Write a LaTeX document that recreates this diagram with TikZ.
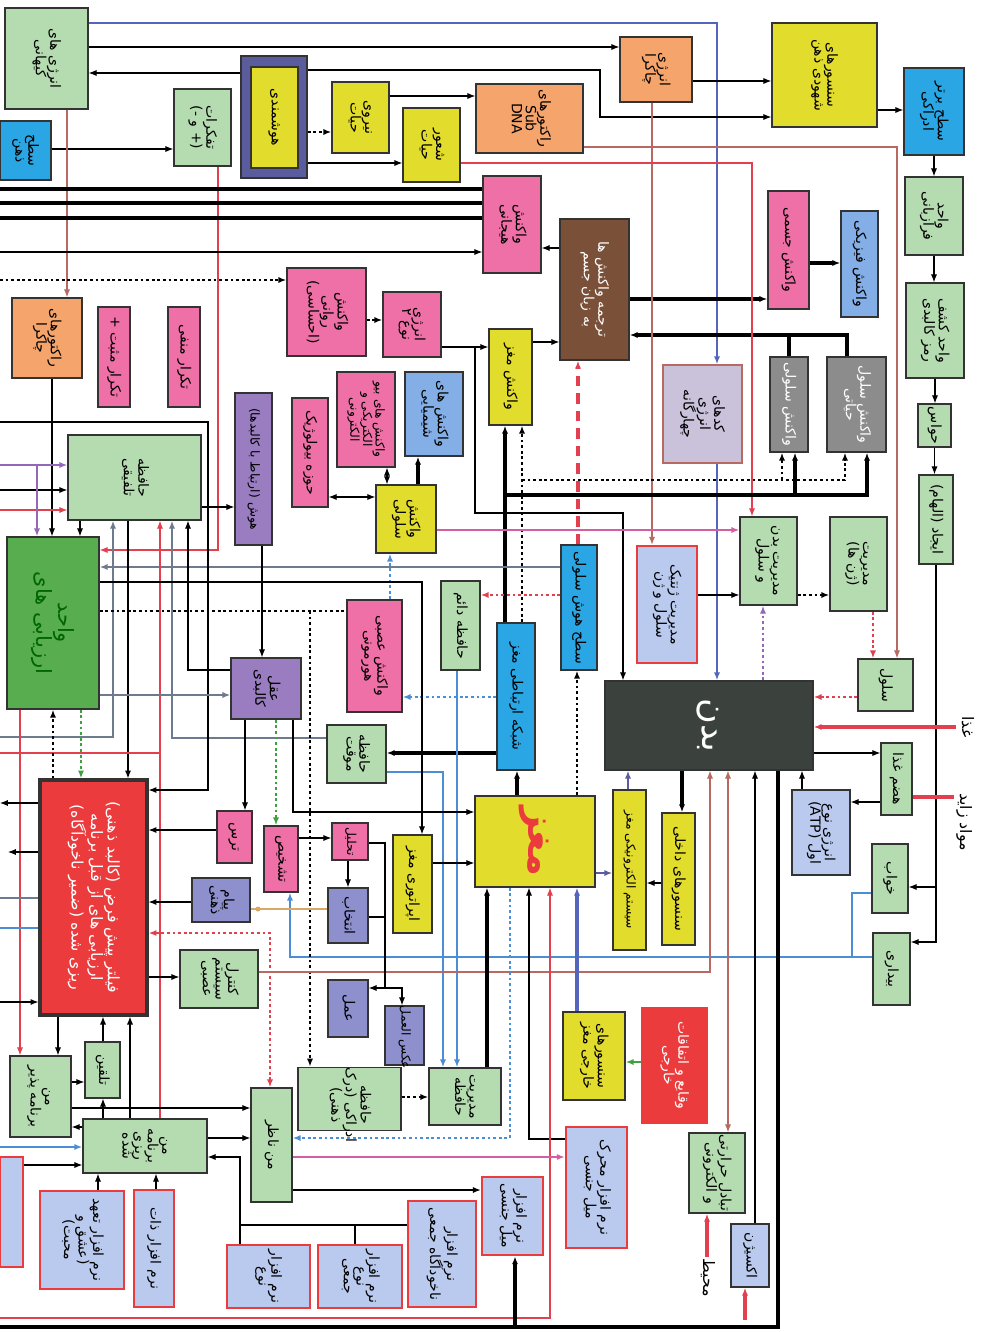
\documentclass[tikz,border=0pt]{standalone}
\usepackage{fontspec}
\usepackage{graphicx}
\usetikzlibrary{arrows.meta,fit}
\newfontfamily\fafont[Script=Arabic]{DejaVu Sans}
\TeXXeTstate=1
\newcommand{\fl}[1]{\beginR#1\endR}
\newcommand{\vt}[1]{\rotatebox{-90}{\begin{tabular}{@{}c@{}}#1\end{tabular}}}
\renewcommand{\arraystretch}{0.8}

\definecolor{cgreen}{HTML}{B5DBB0}
\definecolor{cdgreen}{HTML}{58AE4E}
\definecolor{cyellow}{HTML}{E2DC2C}
\definecolor{corange}{HTML}{F5A56C}
\definecolor{cpink}{HTML}{EE70A6}
\definecolor{ccyan}{HTML}{2AA6E4}
\definecolor{clblue}{HTML}{84AEE6}
\definecolor{cbrown}{HTML}{7A5038}
\definecolor{cpurple}{HTML}{9A7DC0}
\definecolor{cslate}{HTML}{8E90CE}
\definecolor{cgray}{HTML}{8C8C8C}
\definecolor{clav}{HTML}{CAC2DB}
\definecolor{cbody}{HTML}{3B413C}
\definecolor{cred}{HTML}{EC3B3D}
\definecolor{csoft}{HTML}{BACAEE}
\definecolor{cframe}{HTML}{5A5C9E}
\definecolor{lblue}{HTML}{5466BC}
\definecolor{lbrown}{HTML}{B86A62}
\definecolor{lred}{HTML}{E2404E}
\definecolor{lpink}{HTML}{D55EA0}
\definecolor{lpurple}{HTML}{9467B8}
\definecolor{lgreen}{HTML}{3DA23D}
\definecolor{lsky}{HTML}{4C8ED6}
\definecolor{ltan}{HTML}{D9A864}
\definecolor{lgray}{HTML}{6E7A8E}

\begin{document}
\begin{tikzpicture}[
  x=0.02cm, y=-0.02cm, line width=0.6pt,
  >={Latex[length=4.5pt,width=3.5pt]},
  every node/.style={font=\fafont\fontsize{8}{9}\selectfont},
  bx/.style={draw=black!80, line width=0.8pt, inner sep=0pt},
  small/.style={font=\fafont\fontsize{7}{8}\selectfont},
  gbox/.style={bx, fill=cgreen},
  dgbox/.style={bx, fill=cdgreen, text=black!60!green,
              font=\fafont\fontsize{12}{14}\selectfont},
  ybox/.style={bx, fill=cyellow},
  obox/.style={bx, fill=corange},
  pbox/.style={bx, fill=cpink},
  cbox/.style={bx, fill=ccyan},
  lbbox/.style={bx, fill=clblue},
  ubox/.style={bx, fill=cpurple},
  sltbox/.style={bx, fill=cslate},
  grbox/.style={bx, fill=cgray, text=white},
  lavbox/.style={bx, fill=clav, draw=lbrown},
  brbox/.style={bx, fill=cbrown, text=white},
  swbox/.style={bx, fill=csoft, draw=cred, line width=1.5pt},
  atpbox/.style={bx, fill=csoft},
  bodybox/.style={bx, fill=cbody, text=white,
              font=\fafont\fontsize{20}{22}\selectfont},
  brainbox/.style={bx, fill=cyellow, text=cred,
              font=\fafont\bfseries\fontsize{22}{24}\selectfont},
  filterbox/.style={bx, fill=cred, line width=1.8pt, text=white,
              font=\fafont\fontsize{9}{11}\selectfont},
  eventbox/.style={bx, fill=cred, draw=cred, text=white},
  lbl/.style={inner sep=1pt, font=\fafont\fontsize{9}{10}\selectfont},
  thk/.style={line width=1.8pt},
  dotl/.style={line width=1.6pt, dash pattern=on 1.6pt off 1.6pt},
  bluel/.style={draw=lblue, line width=1.4pt},
  brownl/.style={draw=lbrown},
  redl/.style={draw=lred},
  pinkl/.style={draw=lpink, line width=0.8pt},
  purl/.style={draw=lpurple, line width=0.8pt},
  grayl/.style={draw=lgray, line width=0.8pt},
  skyl/.style={draw=lsky, line width=0.9pt},
  tanl/.style={draw=ltan, line width=0.8pt},
  redthk/.style={draw=lred, line width=2pt},
  reddot/.style={dotl, draw=lred},
  purdot/.style={dotl, draw=lpurple},
  greendot/.style={dotl, draw=lgreen},
  bluedot/.style={dotl, draw=lsky},
  reddash/.style={draw=lred, line width=2pt, dash pattern=on 6pt off 4pt},
  navyl/.style={draw=cframe, line width=1.2pt},
  bluethk/.style={draw=lblue, line width=2pt},
  greenthk/.style={draw=lgreen, line width=1.2pt},
]
\path[fill=white, use as bounding box] (0,0) rectangle (982,1332);

% top row
\node[gbox, fit={(5,8) (88,109)}] (cosmic) {\vt{\fl{انرژی های}\\\fl{کیهانی}}};
\node[cbox, fit={(0,121) (51,180)}] (shid) {\vt{\fl{سطح}\\\fl{ذهن}}};
\node[gbox, fit={(174,89) (231,166)}] (fikr) {\vt{\fl{تفکرات}\\\fl{(+ و -)}}};
\node[bx, fill=cframe, fit={(241,56) (307,178)}] (hooshf) {};
\node[ybox, fit={(251,67) (298,168)}] (hoosh) {\vt{\fl{هوشمندی}}};
\node[ybox, fit={(332,82) (389,153)}] (niroo) {\vt{\fl{نیروی}\\\fl{حیات}}};
\node[ybox, fit={(403,108) (460,182)}] (shoor) {\vt{\fl{شعور}\\\fl{حیات}}};
\node[obox, fit={(476,84) (583,153)}] (reactor) {\vt{\fl{راکتورهای}\\Sub\\DNA}};
\node[obox, fit={(620,37) (692,102)}] (chakra) {\vt{\fl{انرژی}\\\fl{چاکرا}}};
\node[ybox, fit={(772,23) (877,127)}] (sensor) {\vt{\fl{سنسورهای}\\\fl{شهودی ذهن}}};
\node[cbox, fit={(904,68) (964,155)}] (sathe) {\vt{\fl{سطح برتر}\\\fl{ادراکی}}};
\node[gbox, fit={(905,177) (963,255)}] (faraz) {\vt{\fl{واحد}\\\fl{فرازبانی}}};
\node[gbox, fit={(906,283) (964,378)}] (ramz) {\vt{\fl{واحد کشف}\\\fl{رمز کالبدی}}};
\node[gbox, fit={(918,404) (951,447)}] (havas) {\vt{\fl{حواس}}};
\node[gbox, fit={(919,475) (953,564)}] (elham) {\vt{\fl{ایجاد (الهام)}}};

% reactions
\node[pbox, fit={(483,176) (541,273)}] (hayajan) {\vt{\fl{واکنش}\\\fl{هیجانی}}};
\node[brbox, fit={(560,219) (629,360)}] (tarjome) {\vt{\fl{ترجمه واکنش ها}\\\fl{به زبان جسم}}};
\node[pbox, fit={(768,191) (809,309)}] (jesmi) {\vt{\fl{واکنش جسمی}}};
\node[lbbox, fit={(841,211) (878,317)}] (fiziki) {\vt{\fl{واکنش فیزیکی}}};
\node[pbox, fit={(287,268) (366,356)}] (ravani) {\vt{\fl{واکنش}\\\fl{روانی}\\\fl{(احساسی)}}};
\node[pbox, fit={(383,292) (441,357)}] (energy2) {\vt{\fl{انرژی}\\\fl{نوع ۲}}};
\node[ybox, fit={(489,329) (532,425)}] (vakmaghz) {\vt{\fl{واکنش مغز}}};
\node[obox, fit={(12,298) (82,378)}] (rchakra) {\vt{\fl{راکتورهای}\\\fl{چاکرا}}};
\node[pbox, fit={(98,307) (130,407)}] (tkmosbat) {\vt{\fl{تکرار مثبت +}}};
\node[pbox, fit={(168,307) (200,407)}] (tkmanfi) {\vt{\fl{تکرار منفی}}};
\node[ubox, small, fit={(235,393) (272,545)}] (hoosh2) {\vt{\fl{هوش (ارتباط با کالبدها)}}};
\node[pbox, fit={(292,398) (328,507)}] (hoze) {\vt{\fl{حوزه بیولوژیک}}};
\node[pbox, small, fit={(337,372) (395,467)}] (bioel) {\vt{\fl{واکنش های بیو}\\\fl{الکتریکی و}\\\fl{الکترونی}}};
\node[lbbox, fit={(405,372) (463,456)}] (shimi) {\vt{\fl{واکنش های}\\\fl{شیمیایی}}};
\node[ybox, fit={(376,485) (436,553)}] (selvak) {\vt{\fl{واکنش}\\\fl{سلولی}}};
\node[lavbox, fit={(663,365) (742,463)}] (neshane) {\vt{\fl{کدهای}\\\fl{انرژی}\\\fl{چهارگانه}}};
\node[grbox, fit={(770,357) (808,452)}] (gray1) {\vt{\fl{واکنش سلولی}}};
\node[grbox, fit={(827,357) (886,452)}] (gray2) {\vt{\fl{واکنش سلول}\\\fl{حیاتی}}};

% middle
\node[gbox, fit={(68,435) (201,520)}] (hafez) {\vt{\fl{حافظه}\\\fl{تلفیقی}}};
\node[dgbox, fit={(7,537) (99,709)}] (arzyab) {\vt{\fl{واحد}\\\fl{ارزیابی های}}};
\node[gbox, fit={(740,517) (797,605)}] (modbadan) {\vt{\fl{مدیریت بدن}\\\fl{و سلول}}};
\node[gbox, fit={(830,517) (887,611)}] (modzhen) {\vt{\fl{مدیریت}\\\fl{(ژن ها)}}};
\node[swbox, fit={(637,546) (697,663)}] (genetik) {\vt{\fl{مدیریت ژنتیک}\\\fl{سلول و ژن}}};
\node[cbox, fit={(561,545) (597,670)}] (hooshsel) {\vt{\fl{سطح هوش سلولی}}};
\node[gbox, fit={(441,581) (480,670)}] (daem) {\vt{\fl{حافظه دائم}}};
\node[pbox, fit={(347,600) (402,712)}] (asabi) {\vt{\fl{واکنش عصبی}\\\fl{هورمونی}}};
\node[cbox, fit={(497,623) (535,770)}] (shabake) {\vt{\fl{شبکه ارتباطی مغز}}};
\node[ubox, fit={(231,658) (301,719)}] (aghl) {\vt{\fl{عقل}\\\fl{کالبدی}}};
\node[bodybox, fit={(605,681) (813,770)}] (body) {\vt{\fl{بدن}}};
\node[gbox, fit={(858,659) (913,711)}] (cell) {\vt{\fl{سلول}}};
\node[gbox, fit={(881,743) (912,815)}] (hazm) {\vt{\fl{هضم غذا}}};
\node[atpbox, fit={(792,790) (850,875)}] (atp) {\vt{\fl{انرژی نوع}\\\fl{اول \beginL(ATP)\endL}}};
\node[gbox, fit={(327,725) (386,783)}] (movaghat) {\vt{\fl{حافظه}\\\fl{موقت}}};
\node[lbl] (food) at (966,727) {\vt{\fl{غذا}}};
\node[lbl] (waste) at (964,822) {\vt{\fl{مواد زاید}}};

% lower part
\node[filterbox, fit={(40,780) (147,1015)}] (filter) {\vt{\fl{فیلتر پیش فرض (کالبد ذهنی)}\\\fl{ارزیابی های از قبل برنامه}\\\fl{ریزی شده (ضمیر ناخودآگاه)}}};
\node[brainbox, fit={(475,796) (595,887)}] (brain) {\vt{\fl{مغز}}};
\node[ybox, small, fit={(613,790) (646,950)}] (system) {\vt{\fl{سیستم الکترونیکی مغز}}};
\node[ybox, fit={(662,813) (695,945)}] (sensin) {\vt{\fl{سنسورهای داخلی}}};
\node[pbox, fit={(217,811) (252,863)}] (tars) {\vt{\fl{ترس}}};
\node[pbox, fit={(264,826) (298,892)}] (tashkhis) {\vt{\fl{تشخیص}}};
\node[pbox, small, fit={(332,823) (368,860)}] (tahlil) {\vt{\fl{تحلیل}}};
\node[ybox, fit={(393,835) (432,933)}] (operator) {\vt{\fl{اپراتوری مغز}}};
\node[sltbox, fit={(192,878) (250,922)}] (payam) {\vt{\fl{پیام}\\\fl{ذهنی}}};
\node[sltbox, fit={(328,888) (368,943)}] (entekhab) {\vt{\fl{انتخاب}}};
\node[gbox, fit={(180,950) (258,1008)}] (control) {\vt{\fl{کنترل}\\\fl{سیستم}\\\fl{عصبی}}};
\node[sltbox, fit={(328,980) (368,1037)}] (amal) {\vt{\fl{عمل}}};
\node[sltbox, small, fit={(385,1008) (424,1063)}] (aksamal) {\vt{\fl{عکس العمل}}};
\node[gbox, fit={(872,844) (908,913)}] (sleep) {\vt{\fl{خواب}}};
\node[gbox, fit={(873,933) (910,1005)}] (awake) {\vt{\fl{بیداری}}};
\node[eventbox, fit={(642,1008) (707,1123)}] (events) {\vt{\fl{وقایع و اتفاقات}\\\fl{خارجی}}};
\node[ybox, fit={(563,1012) (625,1100)}] (sensout) {\vt{\fl{سنسورهای}\\\fl{خارجی مغز}}};
\node[gbox, fit={(298,1073) (401,1125)}] (hadrak) {\vt{\fl{حافظه}\\\fl{ادراکی (درک}\\\fl{ذهنی)}}};
\node[gbox, fit={(429,1068) (501,1125)}] (modhaf) {\vt{\fl{مدیریت}\\\fl{حافظه}}};
\node[gbox, fit={(251,1088) (292,1202)}] (nazer) {\vt{\fl{من ناظر}}};
\node[gbox, fit={(10,1056) (71,1137)}] (pazir) {\vt{\fl{من}\\\fl{برنامه پذیر}}};
\node[gbox, fit={(85,1042) (120,1098)}] (talghin) {\vt{\fl{تلقین}}};
\node[gbox, fit={(83,1119) (207,1173)}] (barname) {\vt{\fl{من}\\\fl{برنامه}\\\fl{ریزی}\\\fl{شده}}};
\node[swbox, fit={(0,1157) (23,1267)}] (sw1) {};
\node[swbox, fit={(40,1191) (124,1289)}] (sw2) {\vt{\fl{نرم افزار تعهد}\\\fl{(عشق و}\\\fl{محبت)}}};
\node[swbox, fit={(134,1190) (174,1307)}] (sw3) {\vt{\fl{نرم افزار ذات}}};
\node[swbox, fit={(227,1245) (310,1308)}] (sw4) {\vt{\fl{نرم افزار}\\\fl{نوع}}};
\node[swbox, fit={(318,1245) (402,1308)}] (sw5) {\vt{\fl{نرم افزار}\\\fl{نوع}\\\fl{جمعی}}};
\node[swbox, fit={(408,1201) (476,1307)}] (sw6) {\vt{\fl{نرم افزار}\\\fl{ناخودآگاه جمعی}}};
\node[swbox, fit={(482,1177) (543,1255)}] (sw7) {\vt{\fl{نرم افزار}\\\fl{میل جنسی}}};
\node[swbox, fit={(566,1127) (627,1248)}] (sw8) {\vt{\fl{نرم افزار محرک}\\\fl{میل جنسی}}};
\node[gbox, fit={(689,1133) (745,1213)}] (tabadol) {\vt{\fl{تبادل حرارتی}\\\fl{و الکترونی}}};
\node[atpbox, fit={(731,1224) (769,1287)}] (oxygen) {\vt{\fl{اکسیژن}}};
\node[lbl] (env) at (707,1278) {\vt{\fl{محیط}}};

% free ends at the page edge
\coordinate (inA) at (0,189);
\coordinate (inB) at (0,203);
\coordinate (inC) at (0,218);
\coordinate (inD) at (0,252);
\coordinate (inE) at (0,280);
\coordinate (inF) at (0,422);
\coordinate (inG) at (0,465);
\coordinate (inH) at (0,490);
\coordinate (inI) at (0,510);
\coordinate (inJ) at (0,737);
\coordinate (inK) at (0,753);
\coordinate (inL) at (0,803);
\coordinate (outM) at (8,852);
\coordinate (inN) at (0,898);
\coordinate (inO) at (0,928);
\coordinate (inP) at (0,1002);
\coordinate (inQ) at (0,1147);
\coordinate (inR) at (0,1318);
\coordinate (botL) at (0,1327);
\coordinate (oxin) at (745,1320);

% top connectors
\draw[bluel, ->] (cosmic.east |- 0,23) -| (717,0 |- neshane.north);
\draw[bluel, ->] (717,0 |- neshane.south) -- (717,0 |- body.north);
\draw[->] (cosmic.east |- 0,47) -- (chakra.west |- 0,47);
\draw[->] (hooshf.west |- 0,73) -- (cosmic.east |- 0,73);
\draw[->] (hooshf.east |- 0,70) -- (600,70) |- (sensor.west |- 0,117);
\draw[dotl, ->] (hooshf.east |- 0,132) -- (niroo.west |- 0,132);
\draw[->] (hooshf.east |- 0,163) -- (shoor.west |- 0,163);
\draw[->] (niroo.east |- 0,96) -- (reactor.west |- 0,96);
\draw[->] (chakra.east |- 0,81) -- (sensor.west |- 0,81);
\draw[->] (sensor.east |- 0,110) -- (sathe.west |- 0,110);
\draw[->] (sathe.south) -- (sathe.south |- faraz.north);
\draw[->] (faraz.south) -- (faraz.south |- ramz.north);
\draw[->] (ramz.south) -- (ramz.south |- havas.north);
\draw[->] (havas.south) -- (havas.south |- elham.north);
\draw[->] (elham.south) |- (awake.east |- 0,942);
\draw[->] (elham.south |- 0,887) -- (sleep.east |- 0,887);
\draw[->] (shid.east |- 0,149) -- (fikr.west |- 0,149);
\draw[brownl, ->] (67,0 |- cosmic.south) -- (67,0 |- rchakra.north);
\draw[->] (52,0 |- rchakra.south) -- (52,0 |- arzyab.north);
\draw[redl, ->] (218,0 |- fikr.south) |- (arzyab.east |- 0,550);
\draw[thk] (inA) -- (hayajan.west |- inA);
\draw[line width=2.4pt] (inB) -- (hayajan.west |- inB);
\draw[thk] (inC) -- (hayajan.west |- inC);
\draw[->] (inD) -- (hayajan.west |- inD);
\draw[dotl, ->] (inE) -- (ravani.west |- inE);
\draw[dotl, ->] (ravani.east |- 0,320) -- (energy2.west |- 0,320);
\draw[->] (energy2.east |- 0,347) -- (vakmaghz.west |- 0,347);
\draw[->] (vakmaghz.east |- 0,342) -- (tarjome.west |- 0,342);
\draw[->] (tarjome.west |- 0,248) -- (hayajan.east |- 0,248);
\draw[thk, ->] (tarjome.east |- 0,299) -- (jesmi.west |- 0,299);
\draw[thk, ->] (jesmi.east |- 0,263) -- (fiziki.west |- 0,263);
\draw[thk, ->] (gray1.north) |- (tarjome.east |- 0,335);
\draw[thk] (847,0 |- gray2.north) |- (gray1.north |- 0,335);
\draw[brownl, ->] (652,0 |- chakra.south) -- (652,0 |- genetik.north);
\draw[brownl, ->] (reactor.east |- 0,147) -| (897,0 |- cell.north);
\draw[redl, ->] (shoor.east |- 0,163) -| (752,0 |- modbadan.north);

% brain network to reactions
\draw[thk, ->] (505,0 |- shabake.north) -- (505,0 |- vakmaghz.south);
\draw[thk, ->] (505,495) -| (867,0 |- gray2.south);
\draw[thk, ->] (795,495) -- (795,0 |- gray1.south);
\draw[dotl, ->] (522,0 |- shabake.north) -- (522,0 |- vakmaghz.south);
\draw[dotl, ->] (522,480) -| (845,0 |- gray2.south);
\draw[dotl, ->] (782,480) -- (782,0 |- gray1.south);
\draw[->] (475,347) |- (623,513) -- (623,0 |- body.north);
\draw[pinkl, ->] (selvak.east |- 0,530) -- (modbadan.west |- 0,530);
\draw[->] (genetik.east |- 0,595) -- (modbadan.west |- 0,595);
\draw[dotl, ->] (modbadan.east |- 0,595) -- (modzhen.west |- 0,595);
\draw[reddot, ->] (873,0 |- modzhen.south) -- (873,0 |- cell.north);
\draw[purdot, ->] (763,0 |- body.north) -- (763,0 |- modbadan.south);
\draw[reddot, ->] (cell.west |- 0,697) -- (body.east |- 0,697);
\draw[redthk, ->] (food.west) -- (food.west -| body.east);
\draw[->] (body.east |- 0,753) -- (hazm.west |- 0,753);
\draw[->] (hazm.west |- 0,802) -- (atp.east |- 0,802);
\draw[->] (802,0 |- atp.north) -- (802,0 |- body.south);
\draw[redthk] (hazm.east |- 0,797) -- (waste.west |- 0,797);
\draw[skyl, ->] (awake.west |- 0,957) -| (290,0 |- tashkhis.south);
\draw[skyl] (sleep.west |- 0,893) -| (852,957);
\draw[thk, ->] (682,0 |- body.south) -- (682,0 |- sensin.north);
\draw[->] (sensin.west |- 0,883) -- (system.east |- 0,883);
\draw[navyl, ->] (brain.east |- 0,873) -- (system.west |- 0,873);
\draw[navyl, ->] (628,0 |- system.north) -- (628,0 |- body.south);
\draw[thk, ->] (517,0 |- brain.north) -- (517,0 |- shabake.south);
\draw[dotl, ->] (577,0 |- brain.north) -- (577,0 |- hooshsel.south);
\draw[reddash, ->] (578,0 |- hooshsel.north) -- (578,0 |- tarjome.south);
\draw[reddot, ->] (hooshsel.west |- 0,595) -- (daem.east |- 0,595);
\draw[grayl, ->] (hooshsel.west |- 0,567) -- (arzyab.east |- 0,567);
\draw[bluedot, ->] (shabake.west |- 0,697) -- (asabi.east |- 0,697);
\draw[thk, ->] (shabake.west |- 0,753) -- (movaghat.east |- 0,753);
\draw[skyl, ->] (movaghat.east |- 0,772) -| (443,0 |- modhaf.north);
\draw[skyl, ->] (457,0 |- daem.south) -- (457,0 |- modhaf.north);
\draw[bluedot, ->] (390,0 |- asabi.north) -- (390,0 |- selvak.south);
\draw[<->] (hoze.east |- 0,497) -- (selvak.west |- 0,497);
\draw[<->] (387,0 |- selvak.north) -- (387,0 |- bioel.south);
\draw[thk, ->] (418,0 |- selvak.north) -- (418,0 |- shimi.south);

% memory and evaluation
\draw[->] (hafez.east |- 0,507) -- (hoosh2.west |- 0,507);
\draw[->] (262,0 |- hoosh2.south) -- (262,0 |- aghl.north);
\draw[purl, ->] (inG) -- (hafez.west |- inG);
\draw[->] (inH) -- (hafez.west |- inH);
\draw[redl, ->] (inI) -- (hafez.west |- inI);
\draw[purl, ->] (37,465) -- (37,0 |- arzyab.north);
\draw[->] (80,0 |- hafez.south) -- (80,0 |- arzyab.north);
\draw[->] (128,0 |- hafez.south) -- (128,0 |- filter.north);
\draw[grayl, ->] (inJ) -| (113,0 |- hafez.south);
\draw[redl, ->] (160,0 |- barname.north) -- (160,0 |- hafez.south);
\draw[redl] (inK) -- (160,753);
\draw[grayl, ->] (movaghat.west |- 0,738) -| (172,0 |- hafez.south);
\draw[->] (aghl.west |- 0,670) -| (188,0 |- hafez.south);
\draw[->] (inF) -| (208,790) -- (filter.east |- 0,790);
\draw[grayl, ->] (arzyab.east |- 0,695) -- (aghl.west |- 0,695);
\draw[->] (arzyab.east |- 0,582) -| (422,0 |- operator.north);
\draw[dotl] (arzyab.east |- 0,611) -- (asabi.west |- 0,611);
\draw[dotl, ->] (310,611) -- (310,0 |- hadrak.north);
\draw[dotl, ->] (53,0 |- filter.north) -- (53,0 |- arzyab.south);
\draw[greendot, ->] (81,0 |- arzyab.south) -- (81,0 |- filter.north);
\draw[redl, ->] (20,0 |- arzyab.south) -- (20,0 |- pazir.north);
\draw[->] (245,0 |- aghl.south) -- (245,0 |- tars.north);
\draw[greendot, ->] (276,0 |- aghl.south) -- (276,0 |- tashkhis.north);
\draw[->] (293,0 |- aghl.south) |- (brain.west |- 0,812);
\draw[->] (tars.west |- 0,830) -- (filter.east |- 0,830);
\draw[->] (payam.west |- 0,902) -- (filter.east |- 0,902);
\draw[reddot, <->] (filter.east |- 0,933) -| (270,0 |- nazer.north);
\draw[->] (filter.east |- 0,977) -- (control.west |- 0,977);
\draw[brownl, ->] (control.east |- 0,972) -| (710,0 |- body.south);
\draw[->] (tashkhis.east |- 0,838) -- (tahlil.west |- 0,838);
\draw[->] (348,0 |- tahlil.south) -- (348,0 |- entekhab.north);
\draw (tahlil.east |- 0,843) -| (385,988);
\draw (entekhab.east |- 0,917) -- (385,917);
\draw[->] (385,988) -- (amal.east |- 0,988);
\draw[->] (385,988) -| (402,0 |- aksamal.north);
\draw[tanl] (entekhab.west |- 0,909) -- (payam.east |- 0,909);
\fill[ltan] (258,909) circle (2.5);
\draw[->] (operator.east |- 0,863) -- (brain.west |- 0,863);
\draw[->] (filter.west |- inL) -- (inL);
\draw[->] (filter.west |- outM) -- (outM);
\draw[grayl] (inN) -- (filter.west |- inN);
\draw[skyl] (inO) -- (filter.west |- inO);
\draw[->] (inP) -- (filter.west |- inP);

% brain inputs
\draw[thk, ->] (487,0 |- modhaf.north) -- (487,0 |- brain.south);
\draw[bluethk, ->] (577,0 |- sensout.north) -- (577,0 |- brain.south);
\draw[->] (sw8.west |- 0,1139) -| (529,0 |- brain.south);
\draw[redl, ->] (inR) -| (550,0 |- brain.south);
\draw[bluedot, ->] (510,0 |- brain.south) |- (nazer.east |- 0,1138);
\draw[greenthk, ->] (events.west |- 0,1062) -- (sensout.east |- 0,1062);
\draw[dotl, ->] (hadrak.east |- 0,1097) -- (modhaf.west |- 0,1097);

% programmed self
\draw[->] (pazir.east |- 0,1108) -- (nazer.west |- 0,1108);
\draw[->] (barname.east |- 0,1138) -- (nazer.west |- 0,1138);
\draw[->] (103,0 |- barname.north) -- (103,0 |- talghin.south);
\draw[->] (103,0 |- talghin.north) -- (103,0 |- filter.south);
\draw[->] (130,0 |- barname.north) -- (130,0 |- filter.south);
\draw[->] (58,0 |- filter.south) -- (58,0 |- pazir.north);
\draw[->] (pazir.east |- 0,1082) -- (talghin.west |- 0,1082);
\draw[->] (barname.west |- 0,1127) -- (pazir.east |- 0,1127);
\draw[->] (nazer.east |- 0,1190) -- (sw7.west |- 0,1190);
\draw[pinkl, ->] (nazer.east |- 0,1157) -- (sw8.west |- 0,1157);
\draw[->] (sw6.west |- 0,1225) -- (240,1225) |- (barname.east |- 0,1157);
\draw (355,0 |- sw5.north) -- (355,1225);
\draw (240,0 |- sw4.north) -- (240,1225);
\draw[->] (98,0 |- sw2.north) -- (98,0 |- barname.south);
\draw[->] (156,0 |- sw3.north) -- (156,0 |- barname.south);
\draw[->] (sw1.east |- 0,1165) -- (barname.west |- 0,1165);
\draw[skyl, ->] (inQ) -- (barname.west |- inQ);

% body and environment
\draw[thk] (778,0 |- body.south) |- (botL);
\draw[thk, ->] (515,1327) -- (515,0 |- sw7.south);
\draw[->] (755,0 |- oxygen.north) -- (755,0 |- body.south);
\draw[brownl, <->] (728,0 |- body.south) -- (728,0 |- tabadol.north);
\draw[redthk, ->] (env.north) -- (env.north |- tabadol.south);
\draw[redthk, ->] (oxin) -- (oxin |- oxygen.south);
\end{tikzpicture}
\end{document}
